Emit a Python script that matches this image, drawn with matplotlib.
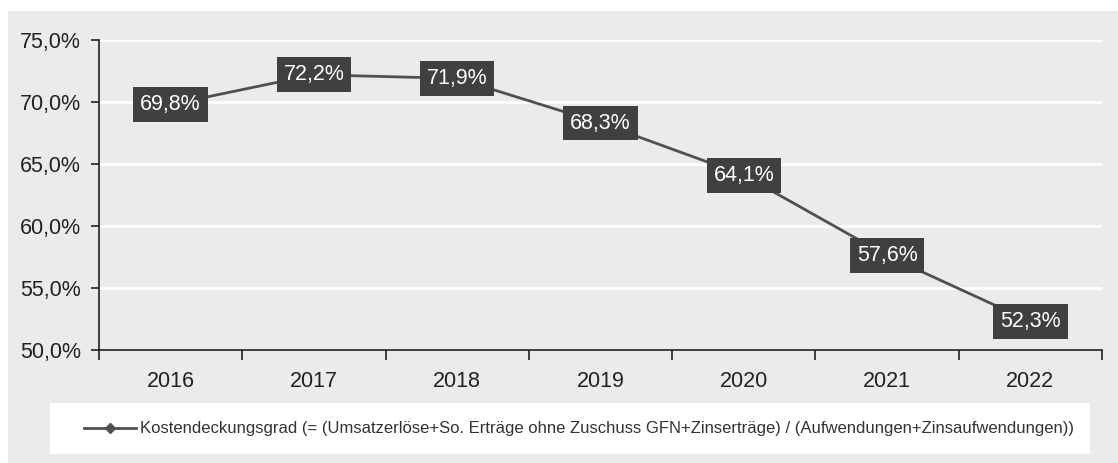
import matplotlib.pyplot as plt
from matplotlib.patches import Rectangle

plt.rcParams['font.family'] = ['Liberation Sans', 'DejaVu Sans']

years = ['2016', '2017', '2018', '2019', '2020', '2021', '2022']
quote = [69.8, 72.2, 71.9, 68.3, 64.1, 57.6, 52.3]
y_ticks = [50, 55, 60, 65, 70, 75]
legend_text = ('Kostendeckungsgrad (= (Umsatzerlöse+So. Erträge ohne Zuschuss GFN+Zinserträge) / '
               '(Aufwendungen+Zinsaufwendungen))')


def fmt(v):
    return f'{v:.1f}%'.replace('.', ',')


fig = plt.figure(figsize=(11.18, 4.63), dpi=100)
fig.patch.set_facecolor('white')

# grey chart area and white legend box, behind everything
fig.patches.append(Rectangle((8 / 1118, 0), 1 - 8 / 1118, 1 - 11 / 463,
                             transform=fig.transFigure, facecolor='#ebebeb',
                             edgecolor='none', zorder=-2))
fig.patches.append(Rectangle((50 / 1118, 1 - 454 / 463), (1090 - 50) / 1118, (454 - 403) / 463,
                             transform=fig.transFigure, facecolor='white',
                             edgecolor='none', zorder=-1))

ax = fig.add_axes([99 / 1118, 1 - 350 / 463, (1102 - 99) / 1118, (350 - 40) / 463])
ax.set_facecolor('none')

x = list(range(len(years)))
ax.plot(x, quote, color='#505050', linewidth=2, zorder=3)
for xi, v in zip(x, quote):
    ax.text(xi, v, fmt(v), ha='center', va='center', color='white', fontsize=15.5,
            zorder=4, bbox=dict(boxstyle='square,pad=0.32', facecolor='#404040', edgecolor='none'))

ax.set_xlim(-0.5, len(years) - 0.5)
ax.set_ylim(50, 75)
ax.set_yticks(y_ticks)
ax.set_yticklabels([fmt(v) for v in y_ticks], fontsize=15.5, color='#222222')
ax.set_xticks(x)
ax.set_xticklabels(years, fontsize=15.5, color='#222222')
ax.tick_params(axis='x', length=0, pad=15)
ax.tick_params(axis='y', length=6, color='#222222', width=1.2, pad=7)
# category boundary ticks
ax.set_xticks([i - 0.5 for i in range(len(years) + 1)], minor=True)
ax.tick_params(axis='x', which='minor', length=7, color='#222222', width=1.2, direction='out')

for v in y_ticks[1:]:
    ax.axhline(v, color='white', linewidth=2, zorder=1)

for s in ['top', 'right']:
    ax.spines[s].set_visible(False)
for s in ['left', 'bottom']:
    ax.spines[s].set_color('#222222')
    ax.spines[s].set_linewidth(1.2)

# legend entry
ly = 1 - 428 / 463
fig.add_artist(plt.Line2D([84 / 1118, 136 / 1118], [ly, ly], transform=fig.transFigure,
                          color='#505050', linewidth=2))
fig.add_artist(plt.Line2D([110 / 1118], [ly], transform=fig.transFigure,
                          color='#505050', marker='D', markersize=5))
fig.text(140 / 1118, ly, legend_text, ha='left', va='center', fontsize=12.0, color='#333333')

fig.savefig('out.png', dpi=100)
